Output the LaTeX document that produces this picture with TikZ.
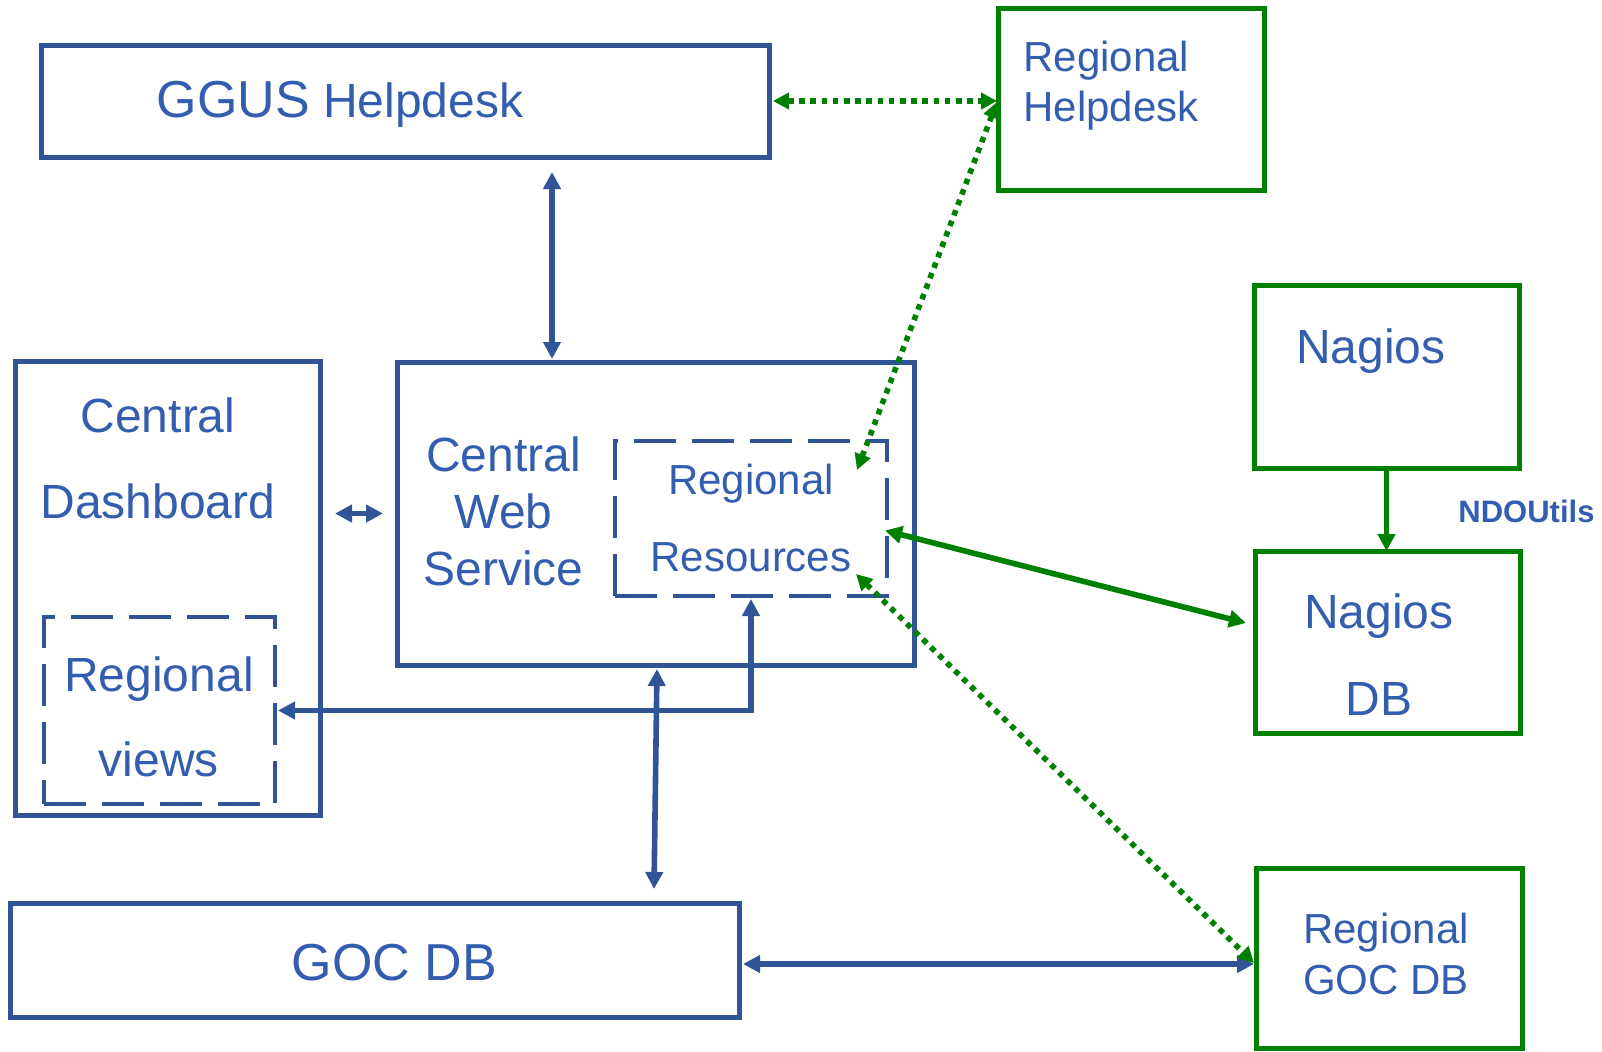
\documentclass[tikz,border=0pt]{standalone}
\usepackage{fontspec}
\setmainfont{Liberation Sans}
\usetikzlibrary{arrows.meta,calc}
\definecolor{gridblue}{RGB}{47,85,151}
\definecolor{textblue}{RGB}{51,94,175}
\definecolor{regiongreen}{RGB}{0,128,0}

\begin{document}
\begin{tikzpicture}[x=0.5pt,y=-0.5pt,
  box/.style={draw=gridblue,line width=2.5pt,inner sep=0pt,outer sep=0pt},
  gbox/.style={draw=regiongreen,line width=2.5pt,inner sep=0pt,outer sep=0pt},
  dbox/.style={draw=gridblue,line width=2.2pt,dash pattern=on 21pt off 8pt,inner sep=0pt,outer sep=0pt},
  txt/.style={text=textblue,anchor=base,inner sep=0pt,font=\fontsize{24}{28}\selectfont},
  stxt/.style={txt,font=\fontsize{21}{25}\selectfont},
  btxt/.style={txt,font=\fontsize{26}{30}\selectfont},
  barrow/.style={draw=gridblue,line width=2.8pt,{Triangle[length=8.5pt,width=8.5pt]}-{Triangle[length=8.5pt,width=8.5pt]}},
  garrow/.style={draw=regiongreen,line width=2.8pt,-{Triangle[length=8.5pt,width=8.5pt]}},
  gdots/.style={draw=regiongreen,line width=2.8pt,dash pattern=on 2.8pt off 2.8pt,{Triangle[length=8pt,width=8pt]}-{Triangle[length=8pt,width=8pt]}}]

  \useasboundingbox (0,0) rectangle (1602,1051);

  % boxes
  \node[box,minimum width=364pt,minimum height=56pt] (ggus) at (405,101) {};
  \node[gbox,minimum width=133pt,minimum height=91pt] (rhelp) at (1131,99) {};
  \node[box,minimum width=152.5pt,minimum height=227pt] (cdash) at (167.5,588) {};
  \node[dbox,minimum width=115.5pt,minimum height=93.5pt] (rviews) at (159.5,710.5) {};
  \node[box,minimum width=258.5pt,minimum height=151.5pt] (cws) at (655.5,513.5) {};
  \node[dbox,minimum width=136pt,minimum height=77.5pt] (rres) at (751,518.5) {};
  \node[gbox,minimum width=132.5pt,minimum height=91.5pt] (nagios) at (1386.5,376.5) {};
  \node[gbox,minimum width=132.5pt,minimum height=91pt] (ndb) at (1387.5,642) {};
  \node[box,minimum width=364.5pt,minimum height=57pt] (goc) at (374.5,960) {};
  \node[gbox,minimum width=133pt,minimum height=90pt] (rgoc) at (1389,958) {};

  % texts
  \node[txt] (ggustxt) at (340,117.5) {{\fontsize{26}{30}\selectfont GGUS} Helpdesk};
  \node[stxt,anchor=base west] (rhelp1) at (1023,71) {Regional};
  \node[stxt,anchor=base west] (rhelp2) at (1023,121) {Helpdesk};
  \node[txt] (cdash1) at (158,432) {Central};
  \node[txt] (cdash2) at (158,518) {Dashboard};
  \node[txt] (rviews1) at (159,691.5) {Regional};
  \node[txt] (rviews2) at (159,776) {views};
  \node[txt] (cws1) at (503.5,471) {Central};
  \node[txt] (cws2) at (503.5,528) {Web};
  \node[txt] (cws3) at (503.5,585) {Service};
  \node[stxt] (rres1) at (751,494) {Regional};
  \node[stxt] (rres2) at (751,571) {Resources};
  \node[txt] (nagios1) at (1371,363.5) {Nagios};
  \node[txt] (ndb1) at (1379,628) {Nagios};
  \node[txt] (ndb2) at (1379,715) {DB};
  \node[stxt] (rgoc1) at (1386,943.5) {Regional};
  \node[stxt] (rgoc2) at (1386,994) {GOC DB};
  \node[btxt] (goctxt) at (394.5,980) {GOC DB};
  \node[txt,font=\fontsize{15.5}{18}\bfseries] (ndoutils) at (1526.5,522) {NDOUtils};

  % blue links
  \draw[barrow] ($(ggus.south)+(147,15)$) -- ($(cws.north)+(-103.5,-3)$);
  \draw[barrow,shorten <=7.5pt,shorten >=7pt] (cdash.east |- cws.west) -- (cws.west);
  \draw[barrow,shorten <=1.5pt,shorten >=1.5pt] (rres.south) |- (rviews.east);
  \draw[barrow] ($(cws.south)+(1.5,4)$) -- ($(goc.north)+(279.5,-14)$);
  \draw[barrow,shorten <=2pt,shorten >=1pt] ($(goc.east)+(0,4)$) -- ($(goc.east -| rgoc.west)+(0,4)$);

  % green links
  \draw[gdots,shorten >=0.5pt] ($(ggus.east)+(4,0)$) -- (ggus.east -| rhelp.west);
  \draw[gdots] ($(rhelp.west)+(-1,3)$) -- ($(rres.north east)+(-30,29)$);
  \draw[gdots] ($(rres.south east)+(-31,-22)$) -- ($(rgoc.west)+(-2,5)$);
  \draw[garrow,{Triangle[length=8.5pt,width=8.5pt]}-{Triangle[length=8.5pt,width=8.5pt]}] ($(rres.east)+(-2,12)$) -- ($(ndb.west)+(-9,-19)$);
  \draw[garrow] (nagios.south) -- (nagios.south |- ndb.north);
\end{tikzpicture}
\end{document}
